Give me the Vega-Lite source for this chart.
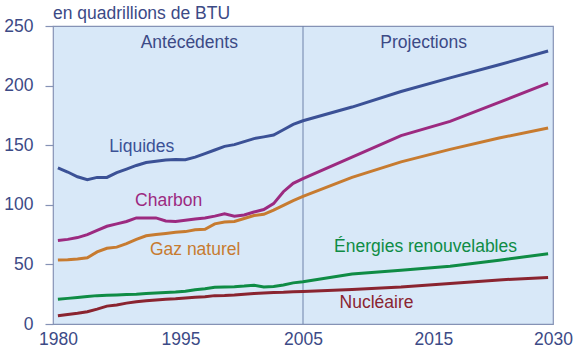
{
  "$schema": "https://vega.github.io/schema/vega-lite/v6.json",
  "width": 500,
  "height": 298,
  "autosize": {"type": "none"},
  "padding": {"left": 53, "top": 26, "right": 27, "bottom": 32},
  "background": "white",
  "title": {"text": "en quadrillions de BTU", "anchor": "start", "frame": "group", "fontSize": 17.5, "font": "Liberation Sans", "fontWeight": "normal", "color": "#3c4a86", "offset": -19.5, "baseline": "alphabetic"},
  "config": {
    "view": {"fill": "#d8e8f8", "stroke": "#8592b5", "strokeWidth": 1.2},
    "axis": {"labelFont": "Liberation Sans", "labelFontSize": 17.5, "labelColor": "#3c4a86", "grid": false, "domain": false}
  },
  "datasets": {
    "series": [
      {"series": "Liquides", "year": 1980, "value": 131}, {"series": "Liquides", "year": 1981, "value": 127.5}, {"series": "Liquides", "year": 1982, "value": 123.5}, {"series": "Liquides", "year": 1983, "value": 121}, {"series": "Liquides", "year": 1984, "value": 123}, {"series": "Liquides", "year": 1985, "value": 123}, {"series": "Liquides", "year": 1986, "value": 127}, {"series": "Liquides", "year": 1987, "value": 130}, {"series": "Liquides", "year": 1988, "value": 133}, {"series": "Liquides", "year": 1989, "value": 135.5}, {"series": "Liquides", "year": 1990, "value": 136.5}, {"series": "Liquides", "year": 1991, "value": 137.5}, {"series": "Liquides", "year": 1992, "value": 138}, {"series": "Liquides", "year": 1993, "value": 137.8}, {"series": "Liquides", "year": 1994, "value": 140}, {"series": "Liquides", "year": 1995, "value": 143}, {"series": "Liquides", "year": 1996, "value": 146}, {"series": "Liquides", "year": 1997, "value": 149}, {"series": "Liquides", "year": 1998, "value": 150.5}, {"series": "Liquides", "year": 1999, "value": 153}, {"series": "Liquides", "year": 2000, "value": 155.5}, {"series": "Liquides", "year": 2001, "value": 157}, {"series": "Liquides", "year": 2002, "value": 158.5}, {"series": "Liquides", "year": 2003, "value": 163}, {"series": "Liquides", "year": 2004, "value": 167.5}, {"series": "Liquides", "year": 2005, "value": 170.5}, {"series": "Liquides", "year": 2010, "value": 182}, {"series": "Liquides", "year": 2015, "value": 195}, {"series": "Liquides", "year": 2020, "value": 206.5}, {"series": "Liquides", "year": 2025, "value": 217.5}, {"series": "Liquides", "year": 2030, "value": 229},
      {"series": "Charbon", "year": 1980, "value": 70}, {"series": "Charbon", "year": 1981, "value": 71}, {"series": "Charbon", "year": 1982, "value": 72.5}, {"series": "Charbon", "year": 1983, "value": 75}, {"series": "Charbon", "year": 1984, "value": 78.5}, {"series": "Charbon", "year": 1985, "value": 82}, {"series": "Charbon", "year": 1986, "value": 84}, {"series": "Charbon", "year": 1987, "value": 86}, {"series": "Charbon", "year": 1988, "value": 89}, {"series": "Charbon", "year": 1989, "value": 89}, {"series": "Charbon", "year": 1990, "value": 89}, {"series": "Charbon", "year": 1991, "value": 86.5}, {"series": "Charbon", "year": 1992, "value": 86}, {"series": "Charbon", "year": 1993, "value": 87}, {"series": "Charbon", "year": 1994, "value": 88}, {"series": "Charbon", "year": 1995, "value": 89}, {"series": "Charbon", "year": 1996, "value": 90.5}, {"series": "Charbon", "year": 1997, "value": 92.5}, {"series": "Charbon", "year": 1998, "value": 90.5}, {"series": "Charbon", "year": 1999, "value": 91.5}, {"series": "Charbon", "year": 2000, "value": 94}, {"series": "Charbon", "year": 2001, "value": 96}, {"series": "Charbon", "year": 2002, "value": 101}, {"series": "Charbon", "year": 2003, "value": 111}, {"series": "Charbon", "year": 2004, "value": 118}, {"series": "Charbon", "year": 2005, "value": 122}, {"series": "Charbon", "year": 2010, "value": 140}, {"series": "Charbon", "year": 2015, "value": 158}, {"series": "Charbon", "year": 2020, "value": 170}, {"series": "Charbon", "year": 2025, "value": 186}, {"series": "Charbon", "year": 2030, "value": 202},
      {"series": "Gaz naturel", "year": 1980, "value": 53.7}, {"series": "Gaz naturel", "year": 1981, "value": 54}, {"series": "Gaz naturel", "year": 1982, "value": 54.5}, {"series": "Gaz naturel", "year": 1983, "value": 55.5}, {"series": "Gaz naturel", "year": 1984, "value": 60.5}, {"series": "Gaz naturel", "year": 1985, "value": 63.5}, {"series": "Gaz naturel", "year": 1986, "value": 64.5}, {"series": "Gaz naturel", "year": 1987, "value": 67.5}, {"series": "Gaz naturel", "year": 1988, "value": 71}, {"series": "Gaz naturel", "year": 1989, "value": 74}, {"series": "Gaz naturel", "year": 1990, "value": 75}, {"series": "Gaz naturel", "year": 1991, "value": 76}, {"series": "Gaz naturel", "year": 1992, "value": 77}, {"series": "Gaz naturel", "year": 1993, "value": 77.5}, {"series": "Gaz naturel", "year": 1994, "value": 79}, {"series": "Gaz naturel", "year": 1995, "value": 79.5}, {"series": "Gaz naturel", "year": 1996, "value": 84}, {"series": "Gaz naturel", "year": 1997, "value": 85.5}, {"series": "Gaz naturel", "year": 1998, "value": 86}, {"series": "Gaz naturel", "year": 1999, "value": 88.5}, {"series": "Gaz naturel", "year": 2000, "value": 91}, {"series": "Gaz naturel", "year": 2001, "value": 92}, {"series": "Gaz naturel", "year": 2002, "value": 95.5}, {"series": "Gaz naturel", "year": 2003, "value": 99.5}, {"series": "Gaz naturel", "year": 2004, "value": 103.5}, {"series": "Gaz naturel", "year": 2005, "value": 107}, {"series": "Gaz naturel", "year": 2010, "value": 123}, {"series": "Gaz naturel", "year": 2015, "value": 136}, {"series": "Gaz naturel", "year": 2020, "value": 146.5}, {"series": "Gaz naturel", "year": 2025, "value": 156}, {"series": "Gaz naturel", "year": 2030, "value": 164.5},
      {"series": "Énergies renouvelables", "year": 1980, "value": 20.7}, {"series": "Énergies renouvelables", "year": 1981, "value": 21.5}, {"series": "Énergies renouvelables", "year": 1982, "value": 22.3}, {"series": "Énergies renouvelables", "year": 1983, "value": 23}, {"series": "Énergies renouvelables", "year": 1984, "value": 23.8}, {"series": "Énergies renouvelables", "year": 1985, "value": 24.2}, {"series": "Énergies renouvelables", "year": 1986, "value": 24.4}, {"series": "Énergies renouvelables", "year": 1987, "value": 24.7}, {"series": "Énergies renouvelables", "year": 1988, "value": 25}, {"series": "Énergies renouvelables", "year": 1989, "value": 25.6}, {"series": "Énergies renouvelables", "year": 1990, "value": 26}, {"series": "Énergies renouvelables", "year": 1991, "value": 26.5}, {"series": "Énergies renouvelables", "year": 1992, "value": 26.8}, {"series": "Énergies renouvelables", "year": 1993, "value": 27.5}, {"series": "Énergies renouvelables", "year": 1994, "value": 28.8}, {"series": "Énergies renouvelables", "year": 1995, "value": 29.5}, {"series": "Énergies renouvelables", "year": 1996, "value": 30.8}, {"series": "Énergies renouvelables", "year": 1997, "value": 31}, {"series": "Énergies renouvelables", "year": 1998, "value": 31.3}, {"series": "Énergies renouvelables", "year": 1999, "value": 31.8}, {"series": "Énergies renouvelables", "year": 2000, "value": 32.5}, {"series": "Énergies renouvelables", "year": 2001, "value": 31}, {"series": "Énergies renouvelables", "year": 2002, "value": 31.5}, {"series": "Énergies renouvelables", "year": 2003, "value": 32.7}, {"series": "Énergies renouvelables", "year": 2004, "value": 34.5}, {"series": "Énergies renouvelables", "year": 2005, "value": 35.5}, {"series": "Énergies renouvelables", "year": 2010, "value": 42}, {"series": "Énergies renouvelables", "year": 2015, "value": 45}, {"series": "Énergies renouvelables", "year": 2020, "value": 48.5}, {"series": "Énergies renouvelables", "year": 2025, "value": 53.5}, {"series": "Énergies renouvelables", "year": 2030, "value": 59},
      {"series": "Nucléaire", "year": 1980, "value": 7}, {"series": "Nucléaire", "year": 1981, "value": 8}, {"series": "Nucléaire", "year": 1982, "value": 9}, {"series": "Nucléaire", "year": 1983, "value": 10.3}, {"series": "Nucléaire", "year": 1984, "value": 12.5}, {"series": "Nucléaire", "year": 1985, "value": 15}, {"series": "Nucléaire", "year": 1986, "value": 16}, {"series": "Nucléaire", "year": 1987, "value": 17.5}, {"series": "Nucléaire", "year": 1988, "value": 18.7}, {"series": "Nucléaire", "year": 1989, "value": 19.5}, {"series": "Nucléaire", "year": 1990, "value": 20.2}, {"series": "Nucléaire", "year": 1991, "value": 20.8}, {"series": "Nucléaire", "year": 1992, "value": 21.2}, {"series": "Nucléaire", "year": 1993, "value": 21.8}, {"series": "Nucléaire", "year": 1994, "value": 22.4}, {"series": "Nucléaire", "year": 1995, "value": 22.8}, {"series": "Nucléaire", "year": 1996, "value": 23.8}, {"series": "Nucléaire", "year": 1997, "value": 24}, {"series": "Nucléaire", "year": 1998, "value": 24.4}, {"series": "Nucléaire", "year": 1999, "value": 25}, {"series": "Nucléaire", "year": 2000, "value": 25.5}, {"series": "Nucléaire", "year": 2001, "value": 26}, {"series": "Nucléaire", "year": 2002, "value": 26.5}, {"series": "Nucléaire", "year": 2003, "value": 26.6}, {"series": "Nucléaire", "year": 2004, "value": 27}, {"series": "Nucléaire", "year": 2005, "value": 27.3}, {"series": "Nucléaire", "year": 2010, "value": 29}, {"series": "Nucléaire", "year": 2015, "value": 31}, {"series": "Nucléaire", "year": 2020, "value": 34}, {"series": "Nucléaire", "year": 2025, "value": 37}, {"series": "Nucléaire", "year": 2030, "value": 39}
    ],
    "labels": [
      {"label": "Antécédents", "series": "header", "year": 1993.4, "value": 235.7},
      {"label": "Projections", "series": "header", "year": 2017.3, "value": 235.7},
      {"label": "Liquides", "series": "Liquides", "year": 1988.55, "value": 148.5},
      {"label": "Charbon", "series": "Charbon", "year": 1991.3, "value": 103.2},
      {"label": "Gaz naturel", "series": "Gaz naturel", "year": 1994.0, "value": 62},
      {"label": "Énergies renouvelables", "series": "Énergies renouvelables", "year": 2017.5, "value": 64.6},
      {"label": "Nucléaire", "series": "Nucléaire", "year": 2012.5, "value": 18}
    ],
    "divider": [{"year": 2005}]
  },
  "layer": [
    {
      "data": {"name": "divider"},
      "mark": {"type": "rule", "color": "#6f82aa", "strokeWidth": 1},
      "encoding": {"x": {"field": "year", "type": "quantitative"}}
    },
    {
      "data": {"name": "series"},
      "mark": {"type": "line", "strokeWidth": 3},
      "encoding": {
        "x": {"field": "year", "type": "quantitative", "scale": {"domain": [1979.5, 2030.5], "nice": false, "zero": false},
          "axis": {"title": null, "values": [1980, 1992.5, 2005, 2018.3, 2030.5], "labelExpr": "datum.value < 1990 ? '1980' : datum.value < 2000 ? '1995' : datum.value < 2010 ? '2005' : datum.value < 2025 ? '2015' : '2030'", "ticks": false, "tickSize": 0, "labelPadding": 6, "labelFlush": false, "labelOverlap": false}},
        "y": {"field": "value", "type": "quantitative", "scale": {"domain": [0, 250], "nice": false},
          "axis": {"title": null, "values": [0, 50, 100, 150, 200, 250], "ticks": true, "tickSize": 8, "tickColor": "#8592b5", "tickWidth": 1.2, "labelPadding": 12}},
        "color": {"field": "series", "type": "nominal", "legend": null,
          "scale": {"domain": ["Liquides", "Charbon", "Gaz naturel", "Énergies renouvelables", "Nucléaire", "header"],
                    "range": ["#3b5196", "#9c2a80", "#c77b30", "#0f8c45", "#8a2430", "#3c4a86"]}},
        "detail": {"field": "series"}
      }
    },
    {
      "data": {"name": "labels"},
      "mark": {"type": "text", "font": "Liberation Sans", "fontSize": 17.5, "align": "center", "baseline": "middle"},
      "encoding": {
        "x": {"field": "year", "type": "quantitative"},
        "y": {"field": "value", "type": "quantitative"},
        "text": {"field": "label"},
        "color": {"field": "series", "type": "nominal", "legend": null}
      }
    }
  ]
}
